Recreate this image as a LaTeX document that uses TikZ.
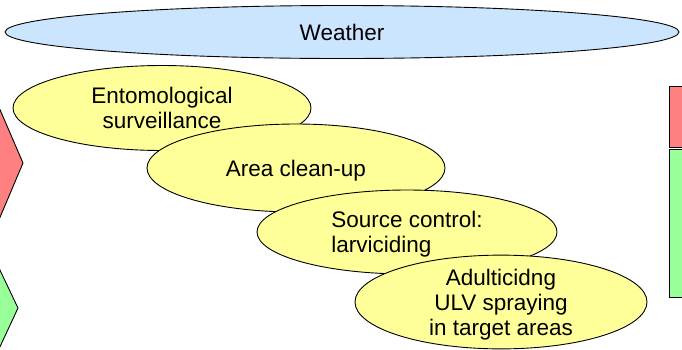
\documentclass[tikz,border=0pt]{standalone}
\usepackage{fontspec}
\setmainfont{Liberation Sans}
\usetikzlibrary{shapes.geometric}
\definecolor{skyblue}{RGB}{204,229,255}
\definecolor{paleyellow}{RGB}{255,255,153}
\definecolor{palered}{RGB}{255,128,128}
\definecolor{palegreen}{RGB}{153,255,153}
\tikzset{
  oval/.style={ellipse, draw, line width=0.9pt, fill=paleyellow, inner sep=0pt,
    font=\fontsize{22.5}{25}\selectfont},
  sunk/.style={text depth=-5pt},
  tag/.style={draw, line width=0.9pt}
}
\begin{document}
\begin{tikzpicture}[x=1pt, y=-1pt]
\useasboundingbox (0,0) rectangle (682,349);
\clip (0,0) rectangle (682,349);
% side markers
\draw[tag, fill=palered] (-2,105)--(23,163)--(-2,222);
\draw[tag, fill=palegreen] (-2,266)--(18,308)--(-2,351);
\draw[tag, fill=palered] (669,86) rectangle (690,147);
\draw[tag, fill=palegreen] (669,149) rectangle (690,297);
% weather band
\node[oval, fill=skyblue, minimum width=674pt, minimum height=53pt] (weather) at (342,32) {Weather};
% measures
\node[oval, minimum width=298pt, minimum height=85pt, align=center] (ento) at (162,108) {Entomological\\surveillance};
\node[oval, sunk, minimum width=298pt, minimum height=88pt] (clean) at (296,168) {Area clean-up};
\node[oval, sunk, minimum width=300pt, minimum height=84pt, align=left] (source) at (407,232) {Source control:\\larviciding};
\node[oval, sunk, minimum width=292pt, minimum height=86pt, align=center] (adult) at (501,302) {Adulticidng\\ULV spraying\\in target areas};
\end{tikzpicture}
\end{document}
